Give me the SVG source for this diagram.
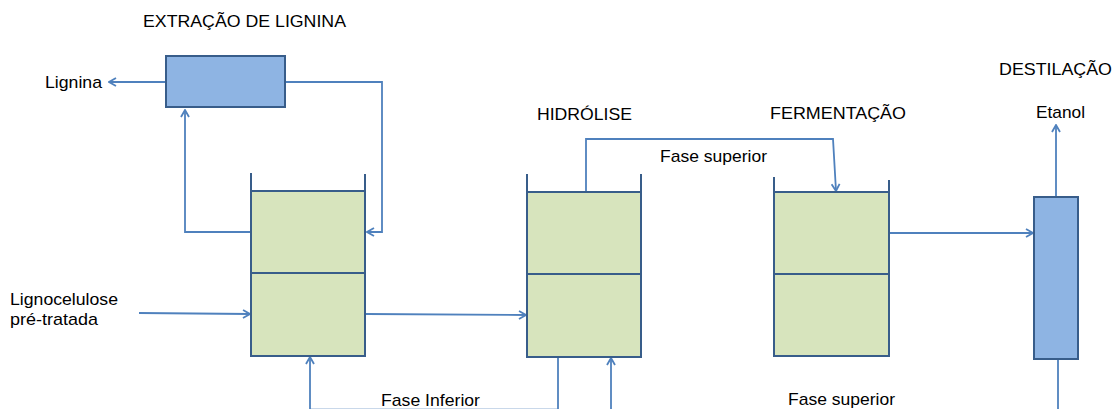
<svg xmlns="http://www.w3.org/2000/svg" width="1120" height="409" viewBox="0 0 1120 409">
  <defs>
    <marker id="arrow" viewBox="0 0 10 10" refX="9" refY="5" markerWidth="10" markerHeight="10" markerUnits="userSpaceOnUse" orient="auto">
      <path d="M2,1 L9,5 L2,9" fill="none" stroke="#4F81BD" stroke-width="1.8"/>
    </marker>
  </defs>
  <style>
    .lbl { font-family: "Liberation Sans", Arial, sans-serif; font-size: 17px; fill: #000; }
    .tank { fill: #D7E4BD; stroke: #385D8A; stroke-width: 2; }
    .wall { fill: none; stroke: #385D8A; stroke-width: 2; }
    .unit { fill: #8EB4E3; stroke: #385D8A; stroke-width: 2; }
    .flow { fill: none; stroke: #4F81BD; stroke-width: 1.8; }
    .arr { marker-end: url(#arrow); }
  </style>
  <rect width="1120" height="409" fill="#fff"/>

  <!-- stage titles and stream labels -->
  <g id="labels">
    <text class="lbl" x="143" y="27" textLength="203" lengthAdjust="spacingAndGlyphs">EXTRAÇÃO DE LIGNINA</text>
    <text class="lbl" x="45" y="88" textLength="57" lengthAdjust="spacingAndGlyphs">Lignina</text>
    <text class="lbl" x="537" y="120" textLength="95" lengthAdjust="spacingAndGlyphs">HIDRÓLISE</text>
    <text class="lbl" x="770" y="119" textLength="136" lengthAdjust="spacingAndGlyphs">FERMENTAÇÃO</text>
    <text class="lbl" x="999" y="75" textLength="113" lengthAdjust="spacingAndGlyphs">DESTILAÇÃO</text>
    <text class="lbl" x="1036" y="118" textLength="49" lengthAdjust="spacingAndGlyphs">Etanol</text>
    <text class="lbl" x="660" y="162" textLength="107" lengthAdjust="spacingAndGlyphs">Fase superior</text>
    <text class="lbl" x="10" y="305" textLength="108" lengthAdjust="spacingAndGlyphs">Lignocelulose</text>
    <text class="lbl" x="10" y="325" textLength="88" lengthAdjust="spacingAndGlyphs">pré-tratada</text>
    <text class="lbl" x="381" y="406" textLength="99" lengthAdjust="spacingAndGlyphs">Fase Inferior</text>
    <text class="lbl" x="788" y="405" textLength="107" lengthAdjust="spacingAndGlyphs">Fase superior</text>
  </g>

  <!-- connectors -->
  <g id="connectors">
    <path class="flow arr" d="M166,82 L109,82"/>
    <path class="flow arr" d="M285,82 L382,82 L382,232 L367,232"/>
    <path class="flow arr" d="M251,232 L185,232 L185,110"/>
    <path class="flow arr" d="M139,313 L250,314"/>
    <path class="flow arr" d="M366,314 L526,315"/>
    <path class="flow arr" d="M310,409 L310,357"/>
    <!-- lower-phase return line, running along the bottom edge -->
    <path class="flow" d="M310,409.3 L558,409.3" stroke-opacity="0.6"/>
    <path class="flow" d="M558,358 L558,409"/>
    <path class="flow arr" d="M611,409 L611,358"/>
    <path class="flow arr" d="M586,191 L586,139 L833,139 L836,191"/>
    <path class="flow arr" d="M890,233 L1033,233"/>
    <path class="flow arr" d="M1056,196 L1056,125"/>
    <path class="flow" d="M1058,360 L1058,409"/>
  </g>

  <g id="extractor">
    <rect class="unit" x="166" y="56" width="119" height="51"/>
  </g>

  <g id="reactor-1">
    <path class="wall" d="M251,173 L251,191 M365,174 L365,191"/>
    <rect class="tank" x="251" y="191" width="114" height="165"/>
    <line class="wall" x1="251" y1="273" x2="365" y2="273"/>
  </g>

  <g id="hydrolysis">
    <path class="wall" d="M527,174 L527,192 M641,174 L641,192"/>
    <rect class="tank" x="527" y="192" width="114" height="165"/>
    <line class="wall" x1="527" y1="274" x2="641" y2="274"/>
  </g>

  <g id="fermentation">
    <path class="wall" d="M774,177 L774,192 M889,180 L889,192"/>
    <rect class="tank" x="774" y="192" width="115" height="164"/>
    <line class="wall" x1="774" y1="274" x2="889" y2="274"/>
  </g>

  <g id="distillation">
    <rect class="unit" x="1034" y="197" width="44" height="162"/>
  </g>
</svg>
